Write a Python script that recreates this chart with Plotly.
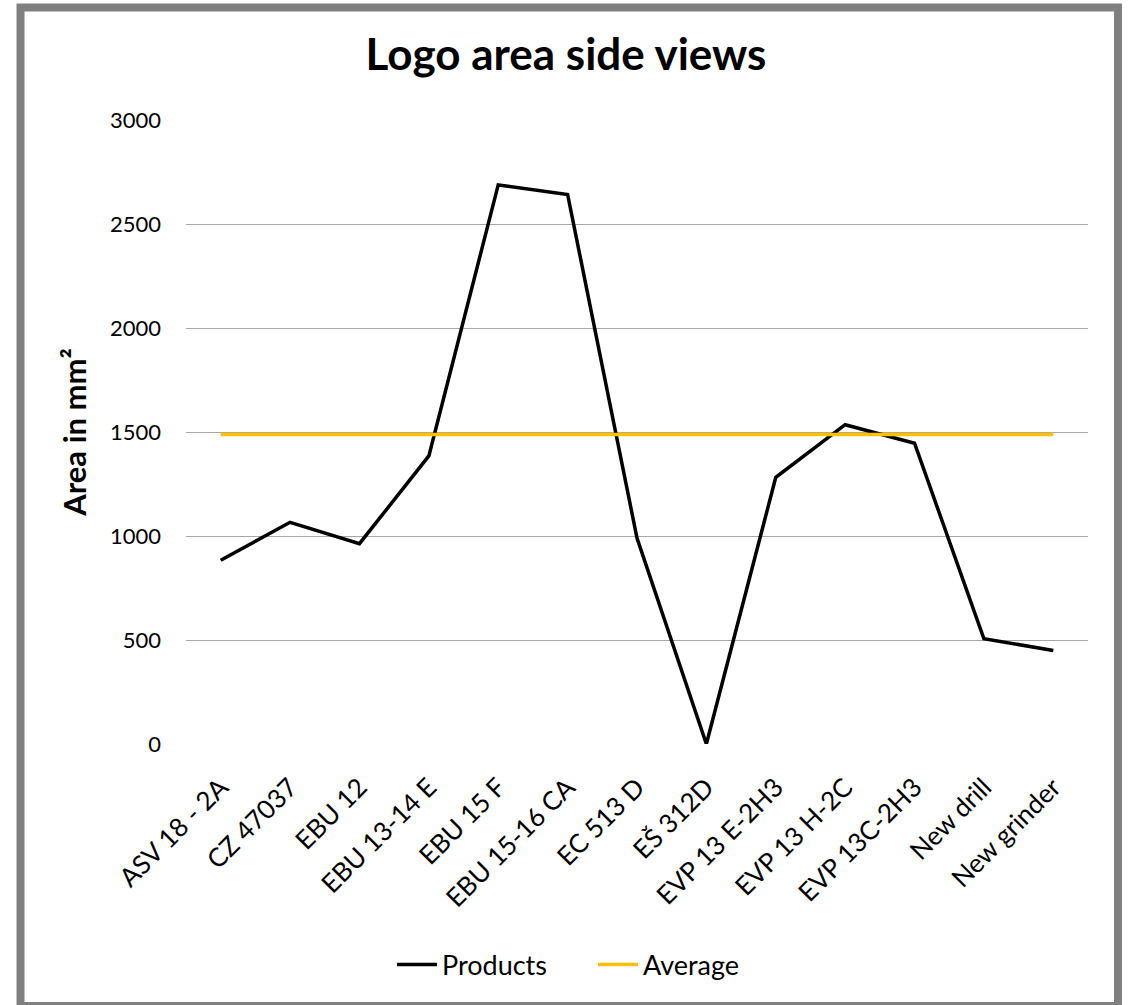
import plotly.graph_objects as go

categories = ["ASV 18 - 2A", "CZ 47037", "EBU 12", "EBU 13-14 E", "EBU 15 F",
              "EBU 15-16 CA", "EC 513 D", "EŠ 312D", "EVP 13 E-2H3", "EVP 13 H-2C",
              "EVP 13C-2H3", "New drill", "New grinder"]
products = [883, 1066, 963, 1385, 2688, 2642, 990, 0, 1282, 1535, 1446, 506, 450]
average_value = 1488
average = [average_value] * len(categories)
y_ticks = [0, 500, 1000, 1500, 2000, 2500, 3000]

W, H = 1132, 1005
L, R, T, B = 186, 1088, 120, 744

def px(x):
    return (x - L) / (R - L)

def py(y):
    return (B - y) / (B - T)

fig = go.Figure()
fig.add_trace(go.Scatter(x=categories, y=products, mode="lines", name="Products",
                         line=dict(color="#000000", width=3.5)))
fig.add_trace(go.Scatter(x=categories, y=average, mode="lines", name="Average",
                         line=dict(color="#FFC000", width=3.5)))

font_family = "Lato, Open Sans, sans-serif"

fig.update_layout(
    width=W, height=H,
    margin=dict(l=L, r=W - R, t=T, b=H - B),
    paper_bgcolor="white", plot_bgcolor="white",
    title=dict(text="<b>Logo area side views</b>", x=0.5, xanchor="center",
               y=1 - 55 / H, yanchor="middle",
               font=dict(family=font_family, size=44, color="black")),
    font=dict(family=font_family, color="black"),
    showlegend=True,
    legend=dict(orientation="h", x=px(593), xanchor="center", y=py(965), yanchor="middle",
                font=dict(size=27, color="black"), traceorder="normal",
                itemwidth=40, entrywidth=146),
    xaxis=dict(type="category", showgrid=False, zeroline=False, showline=False,
               ticks="", tickangle=-45, tickfont=dict(size=26, color="black"),
               ticklabelstandoff=22,
               range=[-0.5, len(categories) - 0.5]),
    yaxis=dict(range=[0, 3000], tickvals=y_ticks, showgrid=True, gridcolor="#A6A6A6",
               gridwidth=1, zeroline=False, showline=False, ticks="",
               tickfont=dict(size=22, color="black"), ticklabelstandoff=24,
               title=dict(text="<b>Area in mm²</b>", font=dict(size=31, color="black"),
                          standoff=14)),
)

fig.add_shape(type="rect", xref="paper", yref="paper",
              x0=px(20.5), x1=px(1118), y0=py(7.5), y1=py(1006),
              line=dict(color="#808080", width=8), fillcolor="rgba(0,0,0,0)", layer="below")

fig.write_html("out.html", config={"displayModeBar": False},
               post_script="document.body.style.margin='0px';document.body.style.overflow='hidden';")
